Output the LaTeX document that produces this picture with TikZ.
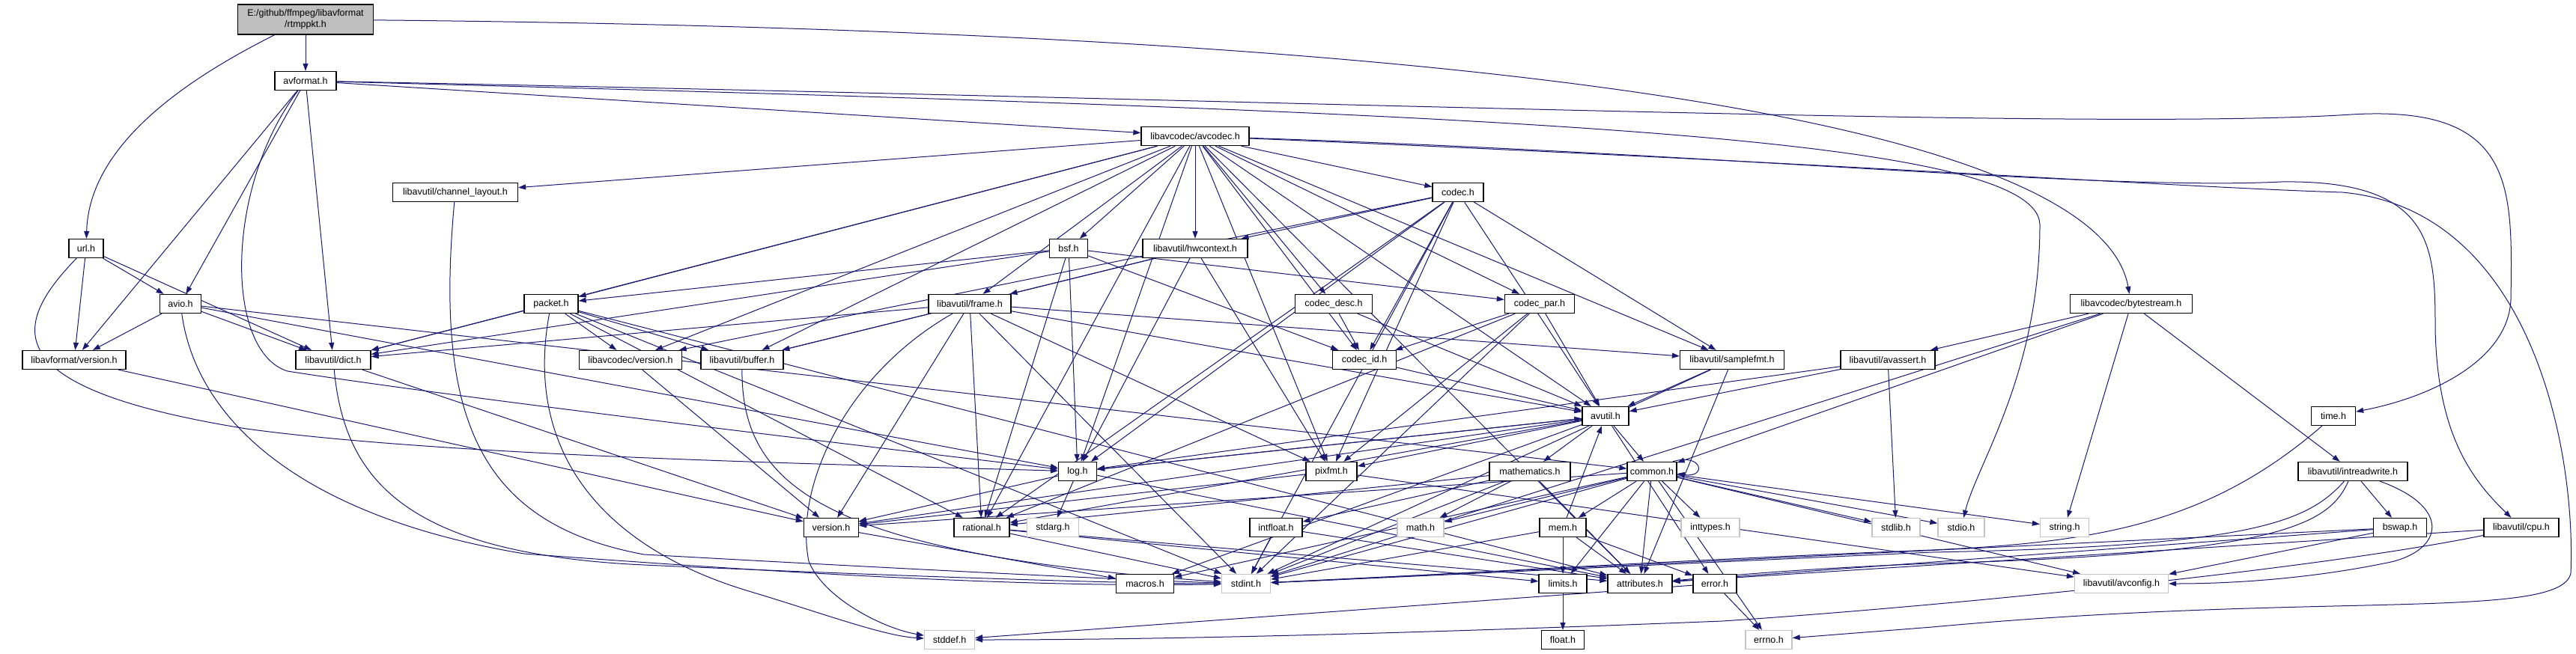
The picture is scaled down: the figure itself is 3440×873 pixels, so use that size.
\documentclass[tikz,border=0pt]{standalone}
\usepackage{fontspec}
\setmainfont{Liberation Sans}
\usetikzlibrary{arrows.meta,backgrounds}
\definecolor{edgeblue}{HTML}{191970}
\definecolor{rootgray}{HTML}{BFBFBF}
\definecolor{sysgray}{HTML}{C4C4C4}
\begin{document}
\begin{tikzpicture}[x=1pt,y=-1pt,
  file/.style={draw=black, line width=1.3pt, fill=white, minimum height=25pt, inner sep=0pt, font=\fontsize{12.5}{15}\selectfont},
  sys/.style={file, draw=sysgray},
  dep/.style={draw=edgeblue, line width=1pt, -{Triangle[length=10pt,width=7pt]}}]
\useasboundingbox (0,0) rectangle (3440,873);
% nodes
\node[file, minimum width=181pt, minimum height=40pt, fill=rootgray, align=center] (root) at (408,26) {E:/github/ffmpeg/libavformat\\/rtmppkt.h};
\node[file, minimum width=82pt] (avformat) at (408,108) {avformat.h};
\node[file, minimum width=144pt] (avcodec) at (1596,182) {libavcodec/avcodec.h};
\node[file, minimum width=167pt] (chl) at (608,257) {libavutil/channel\_layout.h};
\node[file, minimum width=68pt] (codec) at (1947,257) {codec.h};
\node[file, minimum width=46pt] (url) at (115,332) {url.h};
\node[file, minimum width=51pt] (bsf) at (1427,332) {bsf.h};
\node[file, minimum width=140pt] (hwctx) at (1596,332) {libavutil/hwcontext.h};
\node[file, minimum width=55pt] (avio) at (241,406) {avio.h};
\node[file, minimum width=72pt] (packet) at (736,406) {packet.h};
\node[file, minimum width=110pt] (frame) at (1295,406) {libavutil/frame.h};
\node[file, minimum width=103pt] (cdesc) at (1781,406) {codec\_desc.h};
\node[file, minimum width=93pt] (cpar) at (2056,406) {codec\_par.h};
\node[file, minimum width=163pt] (bytes) at (2846,406) {libavcodec/bytestream.h};
\node[file, minimum width=138pt] (lfver) at (99,481) {libavformat/version.h};
\node[file, minimum width=100pt] (dict) at (445,481) {libavutil/dict.h};
\node[file, minimum width=137pt] (lcver) at (842,481) {libavcodec/version.h};
\node[file, minimum width=110pt] (buffer) at (991,481) {libavutil/buffer.h};
\node[file, minimum width=85pt] (codecid) at (1822,481) {codec\_id.h};
\node[file, minimum width=139pt] (sfmt) at (2313,481) {libavutil/samplefmt.h};
\node[file, minimum width=126pt] (avassert) at (2521,481) {libavutil/avassert.h};
\node[file, minimum width=62pt] (avutil) at (2144,556) {avutil.h};
\node[file, minimum width=59pt] (time) at (3116,556) {time.h};
\node[file, minimum width=51pt] (log) at (1439,630) {log.h};
\node[file, minimum width=68pt] (pixfmt) at (1778,630) {pixfmt.h};
\node[file, minimum width=108pt] (mathem) at (2043,630) {mathematics.h};
\node[file, minimum width=66pt] (common) at (2206,630) {common.h};
\node[file, minimum width=146pt] (intrw) at (3142,630) {libavutil/intreadwrite.h};
\node[file, minimum width=73pt] (version) at (1110,705) {version.h};
\node[file, minimum width=74pt] (rational) at (1311,705) {rational.h};
\node[sys, minimum width=69pt] (stdarg) at (1406,705) {stdarg.h};
\node[file, minimum width=70pt] (intfloat) at (1704,705) {intfloat.h};
\node[sys, minimum width=62pt] (mathh) at (1897,705) {math.h};
\node[file, minimum width=62pt] (mem) at (2087,705) {mem.h};
\node[sys, minimum width=78pt] (inttypes) at (2284,705) {inttypes.h};
\node[sys, minimum width=64pt] (stdlib) at (2532,705) {stdlib.h};
\node[sys, minimum width=62pt] (stdio) at (2619,705) {stdio.h};
\node[sys, minimum width=65pt] (string) at (2757,705) {string.h};
\node[file, minimum width=71pt] (bswap) at (3205,705) {bswap.h};
\node[file, minimum width=100pt] (cpu) at (3367,705) {libavutil/cpu.h};
\node[file, minimum width=77pt] (macros) at (1529,780) {macros.h};
\node[sys, minimum width=65pt] (stdint) at (1664,780) {stdint.h};
\node[file, minimum width=64pt] (limits) at (2087,780) {limits.h};
\node[file, minimum width=86pt] (attributes) at (2190,780) {attributes.h};
\node[file, minimum width=58pt] (error) at (2290,780) {error.h};
\node[sys, minimum width=125pt] (avconfig) at (2833,780) {libavutil/avconfig.h};
\node[sys, minimum width=67pt] (stddef) at (1268,855) {stddef.h};
\node[file, minimum width=57pt] (float) at (2087,855) {float.h};
\node[sys, minimum width=62pt] (errno) at (2362,855) {errno.h};
% edges
\begin{scope}[on background layer]
\fill[white] (0,0) rectangle (3440,873);
\foreach \a/\b in {root/avformat,
 avformat/avcodec, avformat/avio, avformat/dict, avformat/lfver,
 url/avio, url/lfver, url/dict,
 avio/common, avio/dict, avio/log, avio/lfver,
 avcodec/sfmt, avcodec/attributes, avcodec/avutil, avcodec/buffer, avcodec/chl, avcodec/dict, avcodec/frame, avcodec/hwctx, avcodec/log, avcodec/pixfmt, avcodec/rational, avcodec/bsf, avcodec/codec, avcodec/cdesc, avcodec/cpar, avcodec/codecid, avcodec/packet, avcodec/lcver,
 codec/stdint, codec/avutil, codec/hwctx, codec/log, codec/pixfmt, codec/rational, codec/sfmt, codec/codecid, codec/lcver,
 bsf/dict, bsf/log, bsf/rational, bsf/codecid, bsf/cpar, bsf/packet,
 hwctx/buffer, hwctx/frame, hwctx/log, hwctx/pixfmt,
 frame/stdint, frame/avutil, frame/buffer, frame/dict, frame/rational, frame/sfmt, frame/pixfmt, frame/version,
 packet/stdint, packet/attributes, packet/buffer, packet/dict, packet/rational, packet/lcver,
 cdesc/avutil, cdesc/codecid,
 cpar/stdint, cpar/avutil, cpar/rational, cpar/pixfmt, cpar/codecid,
 bytes/stdint, bytes/string, bytes/avassert, bytes/common, bytes/intrw,
 lfver/version, dict/version, lcver/version, codecid/avutil,
 sfmt/stdint, sfmt/avutil, sfmt/attributes,
 avassert/stdlib, avassert/avutil, avassert/log,
 avutil/common, avutil/error, avutil/rational, avutil/version, avutil/macros, avutil/mathem, avutil/log, avutil/pixfmt,
 log/stdarg, log/avutil, log/attributes, log/version,
 pixfmt/avconfig, pixfmt/version,
 mathem/stdint, mathem/mathh, mathem/attributes, mathem/rational, mathem/intfloat,
 common/errno, common/inttypes, common/limits, common/mathh, common/stdint, common/stdio, common/stdlib, common/string, common/attributes, common/macros, common/version, common/avconfig, common/mem,
 intrw/bswap,
 version/macros,
 rational/stdint, rational/limits, rational/attributes,
 intfloat/stdint, intfloat/attributes,
 mem/limits, mem/stdint, mem/attributes, mem/error, mem/avutil,
 bswap/stdint, bswap/avconfig, bswap/attributes,
 cpu/attributes,
 limits/float,
 error/errno, error/stddef}
 \draw[dep] (\a) -- (\b);
% curved edges
\draw[dep] (root) .. controls (180,140) and (118,230) .. (url);
\draw[dep] (root) .. controls (1900,40) and (2800,150) .. (bytes);
\draw[dep] (avformat) .. controls (1800,135) and (2800,175) .. (3140,153) .. controls (3360,140) and (3355,250) .. (3353,400) .. controls (3350,480) and (3250,530) .. (time);
\draw[dep] (avformat) .. controls (2000,150) and (2720,180) .. (2724,300) .. controls (2724,500) and (2640,620) .. (stdio);
\draw[dep] (avformat) .. controls (300,250) and (300,470) .. (384,496) .. controls (600,530) and (1100,590) .. (log);
\draw[dep] (url) .. controls (10,440) and (0,520) .. (329,573) .. controls (600,610) and (1100,620) .. (log);
\draw[dep] (avio) .. controls (262,560) and (400,690) .. (700,740) .. controls (1100,770) and (1400,785) .. (stdint);
\draw[dep] (dict) .. controls (460,640) and (540,740) .. (860,755) .. controls (1200,770) and (1500,780) .. (stdint);
\draw[dep] (chl) .. controls (580,560) and (640,700) .. (860,741) .. controls (1200,760) and (1500,775) .. (stdint);
\draw[dep] (buffer) .. controls (990,650) and (1100,740) .. (stdint);
\draw[dep] (frame) .. controls (1130,500) and (1060,650) .. (1080,750) .. controls (1100,800) and (1180,840) .. (stddef);
\draw[dep] (packet) .. controls (700,600) and (800,730) .. (1000,790) .. controls (1100,820) and (1180,850) .. (stddef);
\draw[dep] (time) .. controls (2950,700) and (2800,725) .. (2580,735) .. controls (2200,750) and (1900,770) .. (stdint);
\draw[dep] (intrw) .. controls (3080,700) and (3000,730) .. (2580,738) .. controls (2200,755) and (1900,770) .. (stdint);
\draw[dep] (intrw) .. controls (3110,700) and (3050,740) .. (2580,753) .. controls (2400,760) and (2300,770) .. (attributes);
\draw[dep] (intrw) .. controls (3280,680) and (3260,740) .. (3183,753) .. controls (3100,770) and (3000,780) .. (avconfig);
\draw[dep] (cpu) .. controls (3100,760) and (2600,810) .. (2300,830) .. controls (1800,850) and (1500,855) .. (stddef);
\draw[dep] (avcodec) .. controls (2400,215) and (2900,250) .. (3128,257) .. controls (3380,280) and (3440,600) .. (3433,766) .. controls (3420,830) and (3100,790) .. (2580,838) -- (errno);
\draw[dep] (avcodec) .. controls (2300,205) and (2800,255) .. (3046,243) .. controls (3250,240) and (3252,330) .. (3252,440) .. controls (3255,580) and (3300,640) .. (cpu);
\draw[dep] ([xshift=-6pt]common.north east) .. controls +(40,-12) and +(40,6) .. ([yshift=-3pt]common.east);
\end{scope}
\end{tikzpicture}
\end{document}
